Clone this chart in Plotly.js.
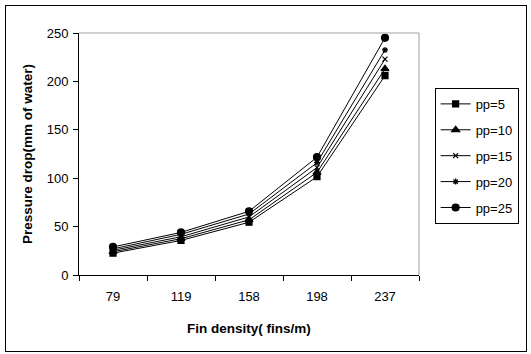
<!DOCTYPE html>
<html>
<head>
<meta charset="utf-8">
<script src="https://cdn.plot.ly/plotly-3.0.1.min.js"></script>
<style>
html,body{margin:0;padding:0;background:#fff;}
#frame{position:absolute;left:5px;top:5px;width:522px;height:347px;border:1px solid #000;box-sizing:border-box;}
#chart{position:absolute;left:0;top:0;width:531px;height:354px;}
</style>
</head>
<body>
<div id="chart"></div>
<div id="frame"></div>
<script>
const categories = ["79", "119", "158", "198", "237"];
const seriesNames = ["pp=5", "pp=10", "pp=15", "pp=20", "pp=25"];
const pp5  = [22.6, 35.7, 54.5, 101.5, 206];
const pp10 = [24, 37.5, 57, 106, 213];
const pp15 = [25.5, 39.5, 60, 111, 223];
const pp20 = [27, 42, 63, 116, 232.5];
const pp25 = [29, 44, 65.8, 121.7, 245];
const yTicks = [0, 50, 100, 150, 200, 250];

const allValues = [pp5, pp10, pp15, pp20, pp25];
const symbols = ["square", "triangle-up", "x-thin-open", "asterisk-open", "circle"];
const sizes = [6, 7, 5, 5, 7];

const traces = allValues.map((vals, i) => ({
  type: "scatter",
  mode: "lines+markers",
  x: categories,
  y: vals,
  name: seriesNames[i],
  legendgroup: "g" + i,
  line: {color: "#000", width: 1},
  marker: {symbol: symbols[i], size: sizes[i], color: "#000", line: {color: "#000", width: 1.2}}
}));

const layout = {
  width: 531, height: 354,
  margin: {l: 79, r: 102, t: 33, b: 79},
  paper_bgcolor: "#fff", plot_bgcolor: "#fff",
  font: {family: "Liberation Sans, Arial, sans-serif", size: 13, color: "#000"},
  showlegend: true,
  legend: {
    x: 1.046, y: 0.773, xanchor: "left", yanchor: "top",
    bordercolor: "#000", borderwidth: 1,
    font: {size: 13, color: "#000"},
    traceorder: "grouped", tracegroupgap: 6,
    itemwidth: 30
  },
  xaxis: {
    type: "category",
    range: [-0.5, 4.5],
    tickson: "boundaries",
    ticks: "outside", ticklen: 5, tickcolor: "#000",
    ticklabelstandoff: 9,
    showline: true, linecolor: "#000", linewidth: 1,
    showgrid: false, zeroline: false,
    tickfont: {size: 13},
    title: {text: "Fin density( fins/m)", font: {size: 13.5, weight: "bold"}, standoff: 20}
  },
  yaxis: {
    range: [0, 250],
    tickvals: yTicks,
    ticks: "outside", ticklen: 5, tickcolor: "#000",
    ticklabelstandoff: 2,
    showline: true, linecolor: "#000", linewidth: 1,
    showgrid: false, zeroline: false,
    tickfont: {size: 13},
    title: {text: "Pressure drop(mm of water)", font: {size: 13.5, weight: "bold"}, standoff: 10}
  },
  shapes: [
    {type: "line", xref: "paper", yref: "paper", x0: 0, x1: 1, y0: 1, y1: 1, line: {color: "#a0a0a0", width: 1}},
    {type: "line", xref: "paper", yref: "paper", x0: 1, x1: 1, y0: 0, y1: 1, line: {color: "#a0a0a0", width: 1}}
  ]
};

Plotly.newPlot("chart", traces, layout, {displayModeBar: false, staticPlot: true});
</script>
</body>
</html>
